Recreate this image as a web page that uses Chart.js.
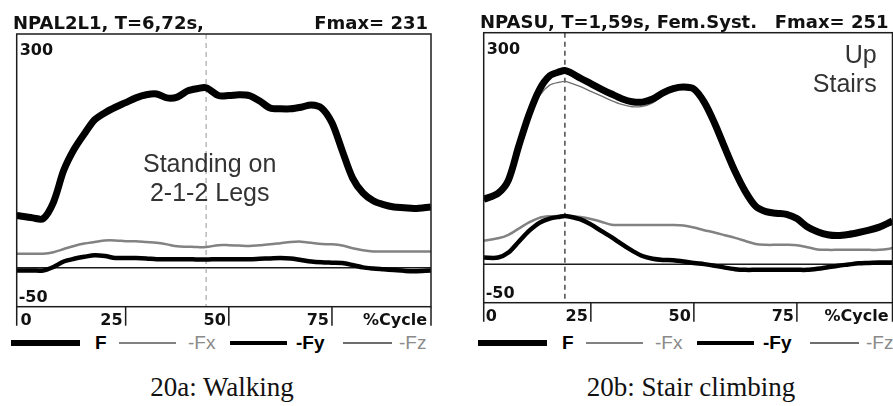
<!DOCTYPE html>
<html>
<head>
<meta charset="utf-8">
<script src="https://cdn.jsdelivr.net/npm/chart.js@4.4.1/dist/chart.umd.min.js"></script>
<style>
  html, body { margin: 0; padding: 0; background: #fff; }
  #figure { position: relative; width: 893px; height: 406px; overflow: hidden; background: #fff; }
  #figure canvas { position: absolute; top: 0; }
  .legend-line { position: absolute; }
  .legend-text { position: absolute; top: 332px; font-size: 19px; line-height: 21px; white-space: nowrap;
                 font-family: "Liberation Sans", Arial, sans-serif; }
  .caption { position: absolute; top: 372px; width: 300px; text-align: center; color: #111;
             font: 27px/30px "Liberation Serif", "Times New Roman", serif; }
</style>
</head>
<body>
<div id="figure">
  <canvas id="walkChart" width="440" height="330" style="left:0"></canvas>
  <canvas id="stairChart" width="440" height="330" style="left:467px"></canvas>
  <div id="walkLegend"></div>
  <div id="stairLegend"></div>
  <div class="caption" style="left:72px">20a: Walking</div>
  <div class="caption" style="left:541px">20b: Stair climbing</div>
</div>
<script>
// Hip joint force components over one cycle (% of cycle on x)
const seriesLabels = ['F', '-Fx', '-Fy', '-Fz'];
const cycleTicks = [0, 25, 50, 75];
const forceTicks = [300, -50];

// Walking, NPAL2L1
const walkCycle = [-1.4, 2.5, 5, 7.5, 10, 12.5, 15, 17.5, 20, 22.5, 25, 27.5, 30, 32.5, 35, 37.5, 40, 42.5, 44.5, 47.5,
  50, 52.5, 55, 57.5, 60, 62.5, 65, 67.5, 70, 72.5, 75, 77.5, 80, 82.5, 85, 87.5, 90, 92.5, 95, 99];
const walkF = [67, 64, 63, 84, 125, 152, 172, 190, 199, 206, 212, 218, 222, 223, 218, 219, 227, 230, 231, 221,
  221, 222, 221, 214, 205, 204, 204, 206, 209, 205, 186, 150, 115, 96, 86, 81, 78, 77, 76, 78];
const walkFx = [18, 18, 18, 20, 24, 28, 31, 33, 35, 35, 34, 34, 33, 32, 30, 27.5, 27, 26.5, 26.5, 29,
  29, 28.5, 28, 29, 30, 31.5, 33, 33.5, 32, 30.5, 30, 28.5, 25, 22.5, 21, 21, 21, 21, 21, 21];
const walkFy = [-3.5, -3.5, -3.5, 1, 8, 11.5, 14, 16, 15, 12.5, 12.5, 12.5, 12, 11, 11, 11, 11, 10.5, 10.5, 11,
  11, 11, 11, 11.5, 12, 12.5, 12, 10, 8, 7, 6.5, 6, 3.5, 0.5, -1, -2, -3, -4, -4.5, -3.5];
const walkFz = [65, 62, 61, 82, 122, 149, 169, 187, 196, 203, 209, 215, 219, 220, 215, 216, 224, 227, 228, 218,
  218, 219, 218, 211, 202, 201, 201, 203, 206, 202, 183, 148, 113, 94, 84, 79, 76, 75, 74, 76];

// Stair climbing, NPASU
const stairCycle = [-1, 2.5, 5, 7.5, 10, 12.5, 15, 17.5, 18.7, 20, 22.5, 25, 27.5, 30, 32.5, 35, 37.5, 40, 42.5, 45,
  47.5, 50, 52.5, 55, 57.5, 60, 62.5, 65, 67.5, 70, 72.5, 75, 77.5, 80, 82.5, 85, 87.5, 90, 92.5, 95, 97.5, 98.2];
const stairF = [84, 92, 109, 153, 194, 226, 244, 249.5, 251, 248.5, 241, 234, 227, 220.5, 214.5, 210.5, 210, 214, 222, 227.5,
  229.5, 227, 210, 183, 151, 120, 94, 75, 68, 66, 64.5, 59, 48.5, 42, 38, 37, 38.5, 41, 44, 48, 54, 56];
const stairFx = [30.5, 33.5, 38, 46, 54, 60, 62, 62.5, 62.5, 62, 61, 58.5, 55, 51, 50.7, 50.7, 50.7, 50.7, 50.7, 50.7,
  50, 47.5, 44, 41, 37.5, 34, 30, 26, 25, 25, 25, 24.5, 22, 19, 18.5, 18.5, 18.5, 18.5, 18.5, 18.5, 20, 21];
const stairFy = [8.5, 8.5, 15, 29, 43, 53.5, 59, 61.5, 62.4, 61.5, 58, 51.5, 43, 35, 26, 17.5, 10.5, 7, 5.5, 5,
  3.5, 1.5, 0, -2, -4.5, -6.5, -7.4, -7.4, -7.4, -7.4, -7.4, -7.4, -7.4, -6, -4, -2, -0.5, 1, 1.5, 2, 2, 2];
const stairFz = [82, 90, 106, 148, 188, 218, 232, 236, 237, 235, 230, 224, 218, 212, 207, 204, 204.5, 209, 219, 225,
  227, 225, 208, 181, 149, 118, 92, 73, 66, 64, 62.5, 57, 46.5, 40, 36, 35, 36.5, 39, 42, 46, 52, 54];

const colors = {
  ink: '#000',
  gray: '#828282',
  fzGray: '#6e6e6e',
  label: '#8a8a8a',
  frame: '#1c1c1c',
  note: '#333'
};

// F on top, then Fy, Fx, Fz underneath
const lineStyles = [
  { color: colors.ink, width: 7, order: 0 },
  { color: colors.gray, width: 2.5, order: 2 },
  { color: colors.ink, width: 4.5, order: 1 },
  { color: colors.fzGray, width: 1.3, order: 3 }
];

const legendText = [
  { weight: 'bold', color: colors.ink },
  { weight: 'normal', color: colors.label },
  { weight: 'bold', color: colors.ink },
  { weight: 'normal', color: colors.label }
];
const legendLayout = { lineX: [11, 119, 230, 343], lineW: [69, 57, 57, 49], textX: [95, 188, 296, 399], midY: 343 };

Chart.defaults.font.family = '"DejaVu Sans", sans-serif';

/**
 * Frame, zero line, time cursor, tick row, header and note for one panel
 */
const panelFrame = {
  id: 'panelFrame',
  beforeDatasetsDraw(chart, args, opts) {
    const { ctx, chartArea: a, scales: { x, y } } = chart;
    ctx.save();
    const y0 = y.getPixelForValue(0);
    ctx.strokeStyle = colors.frame;
    ctx.lineWidth = 1.5;
    ctx.beginPath();
    ctx.moveTo(a.left, y0);
    ctx.lineTo(a.right, y0);
    ctx.stroke();

    const cx = x.getPixelForValue(opts.cursor);
    ctx.setLineDash([5, 4]);
    ctx.strokeStyle = opts.cursorColor;
    ctx.lineWidth = opts.cursorWidth;
    ctx.beginPath();
    ctx.moveTo(cx, a.top);
    ctx.lineTo(cx, a.bottom);
    ctx.stroke();
    ctx.restore();
  },
  afterDraw(chart, args, opts) {
    const { ctx, chartArea: a, scales: { x, y } } = chart;
    const rowH = 19;
    ctx.save();

    // plot box, side lines carried down through the tick row
    ctx.strokeStyle = colors.frame;
    ctx.lineWidth = 1.5;
    ctx.strokeRect(a.left, a.top, a.right - a.left, a.bottom - a.top);
    ctx.beginPath();
    ctx.moveTo(a.left, a.bottom);
    ctx.lineTo(a.left, a.bottom + rowH);
    ctx.moveTo(a.right, a.bottom);
    ctx.lineTo(a.right, a.bottom + rowH);
    ctx.stroke();

    // y labels inside the box
    ctx.fillStyle = '#111';
    ctx.font = 'bold 16px "DejaVu Sans"';
    ctx.textAlign = 'left';
    ctx.textBaseline = 'alphabetic';
    ctx.fillText(String(forceTicks[0]), a.left + 3, y.getPixelForValue(forceTicks[0]) + 21);
    ctx.fillText(String(forceTicks[1]), a.left + 2, y.getPixelForValue(forceTicks[1]) - 5);

    // x tick row: "25|", "50|", "75|", "%Cycle|"
    const rowBase = a.bottom + 18.5;
    cycleTicks.forEach(t => {
      const px = x.getPixelForValue(t);
      if (t === 0) {
        ctx.textAlign = 'left';
        ctx.fillText(String(t), px - 2, rowBase);
        return;
      }
      ctx.textAlign = 'right';
      ctx.fillText(String(t), px - 3, rowBase);
      ctx.beginPath();
      ctx.moveTo(px, a.bottom);
      ctx.lineTo(px, a.bottom + rowH);
      ctx.stroke();
    });
    ctx.textAlign = 'right';
    ctx.fillText('%Cycle', a.right - 4, rowBase);

    // header line
    ctx.font = 'bold 18px "DejaVu Sans"';
    ctx.textAlign = 'left';
    ctx.fillText(opts.title, a.left - 3.7, a.top - 5);
    ctx.textAlign = 'right';
    ctx.fillText(opts.fmax, a.right - opts.fmaxInset, a.top - 5);

    // activity note
    ctx.fillStyle = colors.note;
    ctx.font = '25px "Liberation Sans"';
    ctx.textAlign = opts.noteAlign;
    opts.note.forEach((line, i) => {
      ctx.fillText(line, a.left + opts.noteX, a.top + opts.noteY[i]);
    });
    ctx.restore();
  }
};

function toPoints(cycle, values) {
  return cycle.map((c, i) => ({ x: c, y: values[i] }));
}

/**
 * Build one force panel
 */
function makePanel(canvasId, cycle, series, xRange, padding, frameOpts) {
  return new Chart(document.getElementById(canvasId), {
    type: 'line',
    data: {
      datasets: series.map((values, i) => ({
        label: seriesLabels[i],
        data: toPoints(cycle, values),
        borderColor: lineStyles[i].color,
        borderWidth: lineStyles[i].width,
        order: lineStyles[i].order,
        pointRadius: 0,
        tension: 0.3,
        borderJoinStyle: 'round',
        fill: false
      }))
    },
    options: {
      responsive: false,
      animation: false,
      events: [],
      layout: { padding },
      scales: {
        x: { type: 'linear', min: xRange[0], max: xRange[1], display: false },
        y: { type: 'linear', min: forceTicks[1], max: forceTicks[0], display: false }
      },
      plugins: {
        legend: { display: false },
        tooltip: { enabled: false },
        panelFrame: frameOpts
      }
    },
    plugins: [panelFrame]
  });
}

/**
 * Legend row under a panel, taken from the chart's own datasets
 */
function buildLegend(chart, el, offsetX) {
  chart.data.datasets.forEach((ds, i) => {
    const line = document.createElement('div');
    line.className = 'legend-line';
    const h = Math.min(ds.borderWidth, 6);
    Object.assign(line.style, {
      left: offsetX + legendLayout.lineX[i] + 'px',
      width: legendLayout.lineW[i] + 'px',
      top: legendLayout.midY - h / 2 + 'px',
      height: h + 'px',
      background: ds.borderColor
    });
    el.appendChild(line);

    const text = document.createElement('div');
    text.className = 'legend-text';
    text.textContent = ds.label;
    Object.assign(text.style, {
      left: offsetX + legendLayout.textX[i] + 'px',
      fontWeight: legendText[i].weight,
      color: legendText[i].color
    });
    el.appendChild(text);
  });
}

const walkChart = makePanel('walkChart', walkCycle, [walkF, walkFx, walkFy, walkFz], [-1.4, 99],
  { left: 16.7, top: 34, right: 9, bottom: 23.3 },
  {
    title: 'NPAL2L1, T=6,72s,',
    fmax: 'Fmax= ' + Math.max(...walkF),
    fmaxInset: 3,
    cursor: 44.5,
    cursorColor: '#a8a8a8',
    cursorWidth: 1.2,
    note: ['Standing on', '2-1-2 Legs'],
    noteAlign: 'center',
    noteX: 193,
    noteY: [138, 167]
  });

const stairChart = makePanel('stairChart', stairCycle, [stairF, stairFx, stairFy, stairFz], [-1, 98.2],
  { left: 16.7, top: 32.7, right: 14.5, bottom: 27.3 },
  {
    title: 'NPASU, T=1,59s, Fem.Syst.',
    fmax: 'Fmax= ' + Math.max(...stairF),
    fmaxInset: 4,
    cursor: 18.7,
    cursorColor: '#4a4a4a',
    cursorWidth: 1.5,
    note: ['Up', 'Stairs'],
    noteAlign: 'right',
    noteX: 393,
    noteY: [30.5, 59.5]
  });

buildLegend(walkChart, document.getElementById('walkLegend'), 0);
buildLegend(stairChart, document.getElementById('stairLegend'), 467);
</script>
</body>
</html>
